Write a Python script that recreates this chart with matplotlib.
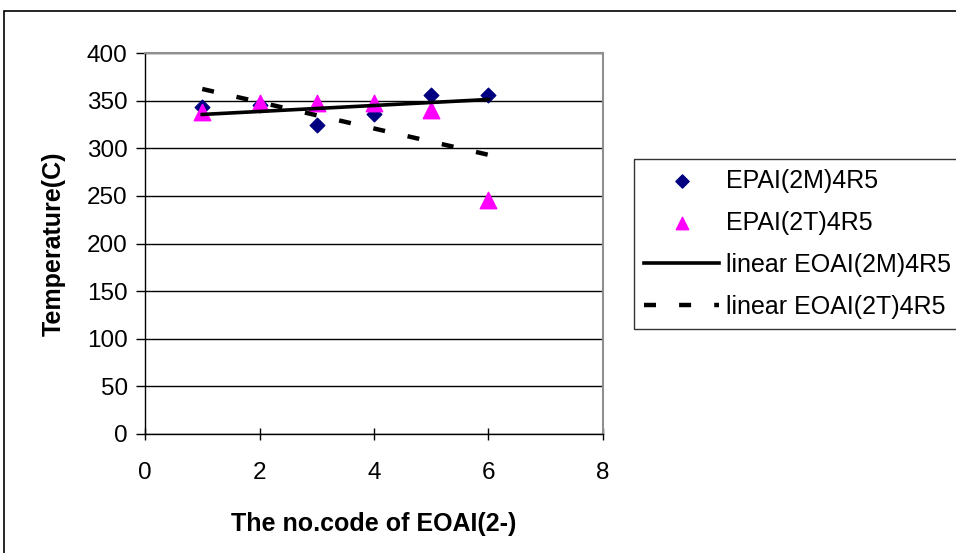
import numpy as np
import matplotlib
matplotlib.use("Agg")
import matplotlib.pyplot as plt
from matplotlib.patches import Rectangle

plt.rcParams['font.family'] = ['Liberation Sans', 'DejaVu Sans']

codes = [1, 2, 3, 4, 5, 6]
temp_2m = [343, 345, 324, 336, 356, 356]
temp_2t = [338, 348, 347, 347, 340, 246]

label_2m = "EPAI(2M)4R5"
label_2t = "EPAI(2T)4R5"
label_fit_2m = "linear EOAI(2M)4R5"
label_fit_2t = "linear EOAI(2T)4R5"

fig = plt.figure(figsize=(9.56, 5.53), dpi=100)
W, H = 956, 553

# outer chart frame
fig.patches.append(Rectangle((4 / W, -0.05), 1.2, 1 - 11 / H + 0.05,
                             transform=fig.transFigure, fill=False,
                             edgecolor='black', linewidth=1.2))

ax = fig.add_axes([145 / W, 1 - 434 / H, (603 - 145) / W, (434 - 53) / H])

ax.scatter(codes, temp_2m, marker='D', s=55, color='#000080', zorder=3, label=label_2m)
ax.scatter(codes, temp_2t, marker='^', s=140, color='#FF00FF', zorder=3, label=label_2t)

x = np.array(codes, dtype=float)
xs = np.array([x.min(), x.max()])
p_m = np.polyfit(x, temp_2m, 1)
p_t = np.polyfit(x, temp_2t, 1)
ax.plot(xs, np.polyval(p_m, xs), color='black', linewidth=2.6, zorder=4, label=label_fit_2m)
ax.plot(xs, np.polyval(p_t, xs), color='black', linewidth=3.2, zorder=4,
        dashes=(2.7, 5.2), label=label_fit_2t)

ax.set_xlim(0, 8)
ax.set_ylim(0, 400)
ax.set_xticks([0, 2, 4, 6, 8])
ax.set_yticks(range(0, 401, 50))
ax.yaxis.grid(True, color='black', linewidth=1)
ax.set_axisbelow(True)
for s in ['top', 'right']:
    ax.spines[s].set_color('#909090')
    ax.spines[s].set_linewidth(1.5)
for s in ['left', 'bottom']:
    ax.spines[s].set_color('black')
    ax.spines[s].set_linewidth(1)
ax.tick_params(axis='y', direction='out', length=6.5, width=1, labelsize=17.5, pad=6)
ax.tick_params(axis='x', direction='inout', length=8.6, width=1, labelsize=17.5, pad=16)

ax.set_xlabel("The no.code of EOAI(2-)", fontsize=18, fontweight='bold', labelpad=20)
ax.set_ylabel("Temperature(C)", fontsize=18, fontweight='bold', labelpad=15)

leg = fig.legend(loc='upper left', bbox_to_anchor=(634 / W, 1 - 159 / H),
                 fontsize=18, frameon=True, fancybox=False, edgecolor='black',
                 handlelength=3.0, handletextpad=0.3, labelspacing=0.72,
                 borderpad=0.4, borderaxespad=0)
leg.get_frame().set_linewidth(1)
leg.legend_handles[0].set_sizes([45])
leg.legend_handles[1].set_sizes([80])

fig.savefig("out.png", dpi=100)
